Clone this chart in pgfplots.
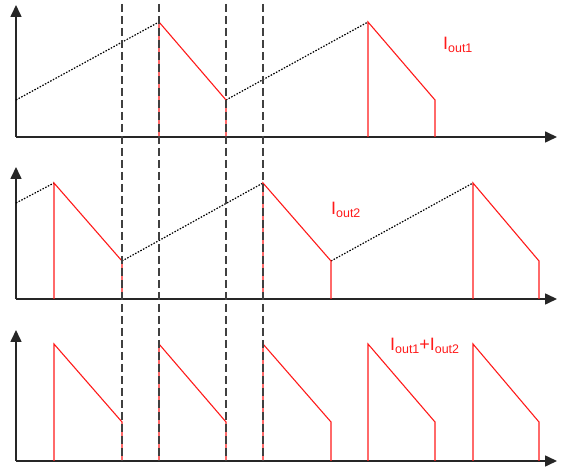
\documentclass[border=0pt]{standalone}
\usepackage{pgfplots}
\pgfplotsset{compat=1.18}
\usepackage{fontspec}
\setmainfont{Liberation Sans}
\usetikzlibrary{arrows.meta}
\definecolor{cred}{HTML}{FF1A1A}
\definecolor{caxis}{HTML}{262626}

% current label: big I with small subscript
\newcommand{\cur}[1]{{\fontsize{18}{18}\selectfont I}\raisebox{-2.5bp}{\fontsize{12.5}{12.5}\selectfont #1}}

\begin{document}
\begin{tikzpicture}
\begin{axis}[
  width=568bp, height=472bp, scale only axis,
  xmin=0, xmax=568, ymin=0, ymax=472,
  hide axis, clip=false,
  axarr/.style={caxis, line width=1.6bp, -{Triangle[length=12bp,width=11bp]}},
  ramp/.style={black, line width=1.2bp, dash pattern=on 1.5bp off 1.5bp},
  cur/.style={cred, line width=1.1bp},
  guide/.style={black!75, line width=1.4bp, dash pattern=on 8bp off 4bp},
]
\addplot[draw=none] coordinates {(0,0) (568,472)};

% axes
\addplot[axarr] coordinates {(16,335) (16,467)};
\addplot[axarr] coordinates {(16,335) (557,335)};
\addplot[axarr] coordinates {(16,173) (16,305)};
\addplot[axarr] coordinates {(16,173) (557,173)};
\addplot[axarr] coordinates {(16,11) (16,142)};
\addplot[axarr] coordinates {(16,11) (557,11)};

% panel 1: Iout1
\addplot[ramp] coordinates {(16,372) (159,450)};
\addplot[ramp] coordinates {(226,372) (368,450)};
\addplot[cur] coordinates {(159,335) (159,450) (226,372) (226,335)};
\addplot[cur] coordinates {(368,335) (368,450) (435,372) (435,335)};

% panel 2: Iout2
\addplot[ramp] coordinates {(16,269) (54,289)};
\addplot[ramp] coordinates {(122,211) (263,289)};
\addplot[ramp] coordinates {(331,211) (473,289)};
\addplot[cur] coordinates {(54,173) (54,289) (122,211) (122,173)};
\addplot[cur] coordinates {(263,173) (263,289) (331,211) (331,173)};
\addplot[cur] coordinates {(473,173) (473,289) (539,211) (539,173)};

% panel 3: sum
\addplot[cur] coordinates {(54,11) (54,128) (122,50) (122,11)};
\addplot[cur] coordinates {(159,11) (159,128) (226,50) (226,11)};
\addplot[cur] coordinates {(263,11) (263,128) (331,50) (331,11)};
\addplot[cur] coordinates {(368,11) (368,128) (435,50) (435,11)};
\addplot[cur] coordinates {(473,11) (473,128) (539,50) (539,11)};

% dashed guides
\addplot[guide] coordinates {(122,468) (122,11)};
\addplot[guide] coordinates {(159,468) (159,11)};
\addplot[guide] coordinates {(226,468) (226,11)};
\addplot[guide] coordinates {(263,468) (263,11)};

% labels
\node[cred, anchor=base west, inner sep=0pt] at (axis cs:443,422) {\cur{out1}};
\node[cred, anchor=base west, inner sep=0pt] at (axis cs:331,257) {\cur{out2}};
\node[cred, anchor=base west, inner sep=0pt] at (axis cs:390,121) {\cur{out1}{\fontsize{18}{18}\selectfont +}\cur{out2}};
\end{axis}
\end{tikzpicture}
\end{document}
